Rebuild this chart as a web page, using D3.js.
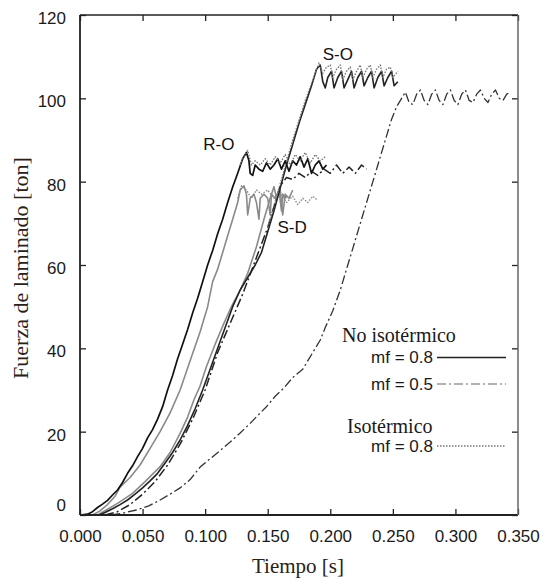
<!DOCTYPE html>
<html>
<head>
<meta charset="utf-8">
<script src="https://cdn.jsdelivr.net/npm/d3@7"></script>
<style>
  body { margin: 0; background: #fff; }
  svg { display: block; }
</style>
</head>
<body>
<svg class="chart_svg"></svg>
<script>
// Axis ticks
var xTicks = [0, 0.05, 0.1, 0.15, 0.2, 0.25, 0.3, 0.35];
var yTicks = [0, 20, 40, 60, 80, 100, 120];

// Curves, [tiempo (s), fuerza (ton)]
var roSolid = [[0.000,0],[0.006,0.2],[0.010,0.8],[0.014,1.8],[0.018,2.6],[0.022,3.5],[0.026,4.8],[0.030,6],[0.034,7.8],[0.038,10],[0.042,11.8],[0.046,14],[0.050,16],[0.054,18.5],[0.058,20.5],[0.062,23],[0.066,26],[0.070,30],[0.074,33.5],[0.078,37.5],[0.082,41],[0.086,44.5],[0.090,48.5],[0.094,52],[0.098,56],[0.102,60],[0.106,63.5],[0.110,67.5],[0.114,71],[0.118,75],[0.122,78.7],[0.126,82],[0.130,85.5],[0.133,87],[0.135,85],[0.136,82],[0.138,81.5],[0.140,84],[0.143,83],[0.146,82.5],[0.149,84.5],[0.152,83],[0.155,84],[0.158,85.5],[0.161,83],[0.164,85],[0.167,82.5],[0.170,85],[0.173,84],[0.176,86],[0.179,83.5],[0.182,85.5],[0.185,82],[0.188,84],[0.191,85],[0.194,83],[0.197,84]];
var roIso = [[0.128,84],[0.131,86],[0.134,87.5],[0.137,84],[0.140,85],[0.144,84],[0.148,85.5],[0.152,84],[0.156,86],[0.160,84.5],[0.164,86.5],[0.168,84],[0.172,86.5],[0.176,85],[0.180,87],[0.184,84.5],[0.188,86.5],[0.192,85],[0.196,86]];
var roHalf = [[0.020,0],[0.030,0.8],[0.040,2.5],[0.050,5],[0.060,8],[0.070,12],[0.080,17],[0.090,23],[0.100,30],[0.110,39],[0.120,46],[0.130,53],[0.140,61],[0.150,69],[0.155,74],[0.160,79],[0.165,81],[0.170,80.5],[0.175,82],[0.180,81],[0.185,82.5],[0.190,81.5],[0.195,83],[0.200,82],[0.205,84],[0.210,82],[0.215,83.5],[0.220,82],[0.225,84],[0.229,83]];

var sdSolid = [[0.010,0],[0.016,1],[0.022,2.5],[0.028,4.5],[0.032,6.7],[0.040,9],[0.048,12],[0.056,16],[0.064,20],[0.072,24.5],[0.080,30],[0.088,37],[0.096,44],[0.102,50],[0.106,56],[0.110,59],[0.114,63],[0.118,67],[0.122,71],[0.126,75],[0.128,78],[0.131,79],[0.133,77],[0.134,72],[0.136,76],[0.139,77],[0.141,75],[0.143,71],[0.144,76],[0.147,77],[0.150,76],[0.152,72],[0.153,77],[0.156,76],[0.159,78],[0.161,73],[0.162,77],[0.165,76]];
var sdIso = [[0.126,76],[0.129,79],[0.133,78],[0.137,76],[0.141,78],[0.145,77],[0.150,78],[0.155,76],[0.160,77.5],[0.165,75],[0.170,76.5],[0.174,74.5],[0.178,76],[0.182,75],[0.186,76.5],[0.190,75.5]];
var sdLate = [[0.014,0],[0.021,1.2],[0.030,2.8],[0.042,5.2],[0.052,8],[0.064,11.6],[0.072,15],[0.080,19.6],[0.086,23.5],[0.091,27.6],[0.096,31],[0.101,35.6],[0.108,41],[0.115,46],[0.121,50],[0.128,54],[0.134,58],[0.141,64.4],[0.147,71],[0.152,76],[0.155,78.8],[0.157,76],[0.160,78],[0.162,72],[0.164,77],[0.167,76],[0.170,78]];

var soSolid = [[0.015,0],[0.020,0.6],[0.026,1.5],[0.032,2.5],[0.038,3.6],[0.044,5],[0.050,6.5],[0.056,8.2],[0.062,10],[0.068,12.5],[0.074,15],[0.080,18],[0.086,21.5],[0.092,25.5],[0.098,30],[0.104,35],[0.110,40],[0.116,45],[0.122,50],[0.128,54],[0.134,57],[0.140,60],[0.145,63],[0.150,68],[0.155,73],[0.160,78.5],[0.165,84],[0.170,89],[0.175,94],[0.180,98.5],[0.185,103],[0.189,107],[0.192,108],[0.194,104],[0.196,102.5],[0.198,105],[0.201,106.5],[0.203,102.5],[0.206,105],[0.209,106.5],[0.211,102.5],[0.214,104.5],[0.217,106.5],[0.219,102.5],[0.222,105],[0.225,106.5],[0.227,103],[0.230,105],[0.233,106.5],[0.235,102.5],[0.238,105],[0.241,106.5],[0.243,103],[0.246,105],[0.249,106.5],[0.251,103],[0.254,104]];
var soIso = [[0.150,69],[0.160,79.5],[0.170,90],[0.180,99.5],[0.188,106],[0.191,108.5],[0.194,106],[0.197,107.5],[0.200,108],[0.202,105],[0.205,107],[0.208,108],[0.210,104.5],[0.213,106.5],[0.216,107.5],[0.218,104.5],[0.221,106.5],[0.224,108],[0.226,105],[0.229,107],[0.232,108],[0.234,105],[0.237,107],[0.240,108],[0.242,105],[0.245,107],[0.248,107.5],[0.250,105],[0.254,106.5]];
var soHalf = [[0.025,0],[0.035,0.5],[0.045,1.2],[0.055,2.2],[0.064,3.6],[0.072,5],[0.080,6.5],[0.088,8.5],[0.096,11.5],[0.104,13.5],[0.112,15.5],[0.120,17.5],[0.128,19.7],[0.136,22],[0.144,24.5],[0.149,26],[0.156,28.5],[0.163,30.5],[0.170,33],[0.178,35],[0.186,39],[0.192,42],[0.196,45],[0.202,49],[0.208,54],[0.214,60],[0.220,66],[0.226,72],[0.232,78],[0.238,84],[0.244,90],[0.249,95],[0.253,98],[0.257,100],[0.260,101.5],[0.263,99],[0.266,98.5],[0.269,101],[0.272,102],[0.275,99.5],[0.278,98.5],[0.281,101],[0.284,102],[0.287,99.5],[0.290,98.5],[0.293,101],[0.296,102],[0.299,99.5],[0.302,98.5],[0.305,101],[0.308,102],[0.311,99.5],[0.314,99],[0.317,101],[0.320,102],[0.323,100],[0.326,99],[0.329,101],[0.332,102],[0.335,100],[0.338,99.5],[0.341,101],[0.344,101.5]];

// Curve labels
var curveLabels = [
  { text: "S-O", t: 0.2060, f: 110.5 },
  { text: "R-O", t: 0.1110, f: 89 },
  { text: "S-D", t: 0.1695, f: 69 }
];

// Legend entries
var legendLabels = ["mf = 0.8", "mf = 0.5", "mf = 0.8"];
var legendTitles = ["No isotérmico", "Isotérmico"];

// line styles
var SOLID = null, DASHDOT = "9,3,2,3", DOTTED = "1.5,1.5";

var curves = [
  { data: soHalf, color: "#333", width: 1.3, dash: DASHDOT },
  { data: roHalf, color: "#222", width: 1.5, dash: DASHDOT },
  { data: sdLate, color: "#8a8a8a", width: 1.6, dash: SOLID },
  { data: sdSolid, color: "#8a8a8a", width: 1.6, dash: SOLID },
  { data: sdIso, color: "#8a8a8a", width: 1.4, dash: DOTTED },
  { data: soSolid, color: "#222", width: 1.6, dash: SOLID },
  { data: soIso, color: "#777", width: 1.4, dash: DOTTED },
  { data: roSolid, color: "#111", width: 1.7, dash: SOLID },
  { data: roIso, color: "#777", width: 1.4, dash: DOTTED }
];

var W = 541, H = 578;
var margin = { top: 15, right: 23, bottom: 63, left: 80 },
  w = W - margin.left - margin.right,
  h = H - margin.top - margin.bottom;

var svg = d3.select(".chart_svg").attr("width", W).attr("height", H);
var g = svg.append("g").attr("transform", `translate(${margin.left}, ${margin.top})`);

var x = d3.scaleLinear().domain([0, 0.35]).range([0, w]);
var y = d3.scaleLinear().domain([0, 120]).range([h, 0]);

var sans = "'Liberation Sans', Arial, sans-serif";
var serif = "'Liberation Serif', 'Times New Roman', serif";

// Curves
var line = d3.line().x((d) => x(d[0])).y((d) => y(d[1]));
g.selectAll("path.curve")
  .data(curves)
  .join("path")
  .attr("class", "curve")
  .attr("d", (d) => line(d.data))
  .attr("fill", "none")
  .attr("stroke", (d) => d.color)
  .attr("stroke-width", (d) => d.width)
  .attr("stroke-dasharray", (d) => d.dash)
  .attr("stroke-linejoin", "round");

// Axes, ticks pointing inwards on all four sides
function styleAxis(sel) {
  sel.select(".domain").remove();
  sel.selectAll(".tick line").attr("stroke", "#222").attr("stroke-width", 1.3);
  sel.selectAll(".tick text").attr("fill", "#1a1a1a").style("font-family", sans).style("font-size", "17px");
}

g.append("g")
  .attr("transform", `translate(0, ${h})`)
  .call(d3.axisBottom(x).tickValues(xTicks).tickFormat(d3.format(".3f")).tickSizeInner(-6).tickPadding(15))
  .call(styleAxis);

var yAxis = g.append("g")
  .call(d3.axisLeft(y).tickValues(yTicks).tickSizeInner(-6).tickPadding(14))
  .call(styleAxis);
// labels sit a little low in the original, and the "0" sits above the axis line
yAxis.selectAll(".tick text").attr("dy", (d) => (d === 0 ? "-0.27em" : "0.5em"));

g.append("g")
  .call(d3.axisTop(x).tickValues(xTicks).tickSizeInner(-6).tickFormat(""))
  .call(styleAxis);

g.append("g")
  .attr("transform", `translate(${w}, 0)`)
  .call(d3.axisRight(y).tickValues(yTicks).tickSizeInner(-6).tickFormat(""))
  .call(styleAxis);

// Frame
g.append("line").attr("x1", 0).attr("x2", w).attr("y1", 0).attr("y2", 0).attr("stroke", "#222").attr("stroke-width", 1.5);
g.append("line").attr("x1", 0).attr("x2", w).attr("y1", h).attr("y2", h).attr("stroke", "#222").attr("stroke-width", 1.8);
g.append("line").attr("x1", 0).attr("x2", 0).attr("y1", 0).attr("y2", h).attr("stroke", "#222").attr("stroke-width", 1.8);
g.append("line").attr("x1", w).attr("x2", w).attr("y1", 0).attr("y2", h).attr("stroke", "#666").attr("stroke-width", 1.5);

// Curve labels
g.selectAll("text.clabel")
  .data(curveLabels)
  .join("text")
  .attr("class", "clabel")
  .attr("x", (d) => x(d.t))
  .attr("y", (d) => y(d.f))
  .attr("text-anchor", "middle")
  .attr("dominant-baseline", "central")
  .style("font-family", sans)
  .style("font-size", "17px")
  .attr("fill", "#111")
  .text((d) => d.text);

// Legend
var leg = svg.append("g");
var legRows = [
  { label: legendLabels[0], y: 357.5, dash: SOLID, color: "#222", width: 1.3 },
  { label: legendLabels[1], y: 384, dash: DASHDOT, color: "#666", width: 1.2 },
  { label: legendLabels[2], y: 446, dash: DOTTED, color: "#777", width: 1.3 }
];
leg.selectAll("text.ltitle")
  .data([{ text: legendTitles[0], x: 342, y: 335 }, { text: legendTitles[1], x: 347, y: 426 }])
  .join("text")
  .attr("x", (d) => d.x)
  .attr("y", (d) => d.y)
  .attr("dominant-baseline", "central")
  .style("font-family", serif)
  .style("font-size", "20px")
  .attr("fill", "#1a1a1a")
  .text((d) => d.text);
leg.selectAll("text.lrow")
  .data(legRows)
  .join("text")
  .attr("x", 433)
  .attr("y", (d) => d.y)
  .attr("text-anchor", "end")
  .attr("dominant-baseline", "central")
  .style("font-family", sans)
  .style("font-size", "17px")
  .attr("fill", "#1a1a1a")
  .text((d) => d.label);
leg.selectAll("line.lrow")
  .data(legRows)
  .join("line")
  .attr("x1", 437)
  .attr("x2", 506)
  .attr("y1", (d) => d.y)
  .attr("y2", (d) => d.y)
  .attr("stroke", (d) => d.color)
  .attr("stroke-width", (d) => d.width)
  .attr("stroke-dasharray", (d) => d.dash);

// Axis titles
svg.append("text")
  .attr("x", margin.left + w / 2 - 1)
  .attr("y", 566)
  .attr("text-anchor", "middle")
  .attr("dominant-baseline", "central")
  .style("font-family", serif)
  .style("font-size", "21px")
  .attr("fill", "#2a2218")
  .text("Tiempo [s]");

svg.append("text")
  .attr("transform", "translate(20, 268) rotate(-90)")
  .attr("text-anchor", "middle")
  .attr("dominant-baseline", "central")
  .style("font-family", serif)
  .style("font-size", "22px")
  .attr("fill", "#2a2218")
  .text("Fuerza de laminado [ton]");
</script>
</body>
</html>
